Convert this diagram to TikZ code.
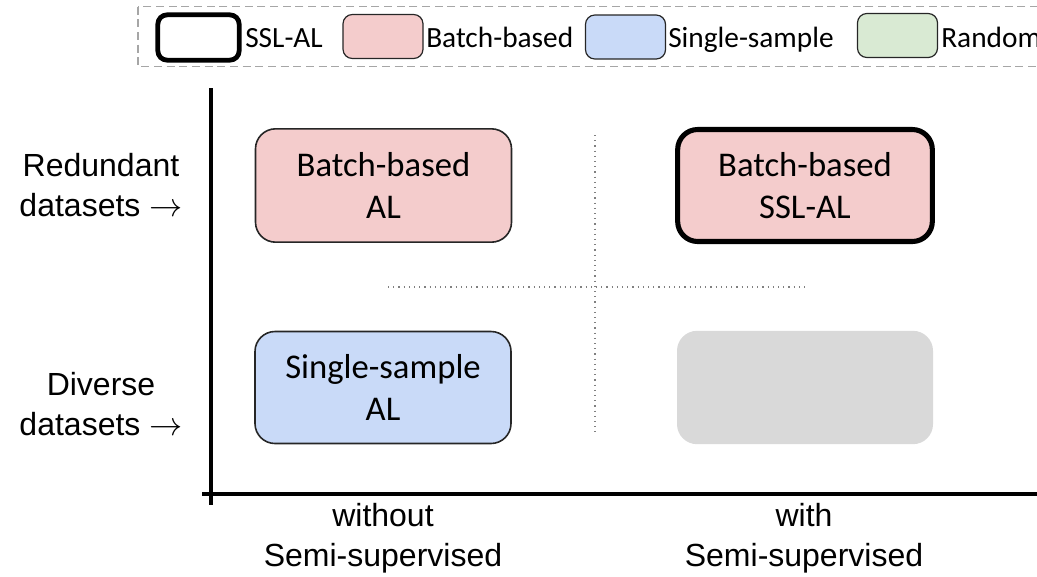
\documentclass[tikz,border=0pt]{standalone}
\usepackage{fontspec}
\setmainfont{Carlito}
\newfontfamily\axisfont{Liberation Sans}
\begin{document}
\begin{tikzpicture}[x=0.75pt,y=-0.75pt,
  quad/.style={rectangle,rounded corners=15pt,inner sep=0pt,align=center,
    font=\fontsize{26}{32}\selectfont},
  swatch/.style={rectangle,rounded corners=7pt,inner sep=0pt,
    minimum width=60pt,minimum height=33pt,draw=black!85,line width=0.9pt},
  legtext/.style={anchor=base west,inner sep=0pt,font=\fontsize{22}{26}\selectfont},
  axislabel/.style={align=center,inner sep=0pt,font=\axisfont\fontsize{24}{30}\selectfont},
  guide/.style={draw=black!50,line width=0.9pt,dash pattern=on 0.9pt off 3pt},
  axis/.style={draw=black,line width=2.3pt}]
\useasboundingbox (0,0) rectangle (1037,576);
\clip (0,0) rectangle (1037,576);

% legend frame
\draw[draw=black!35,line width=1.1pt,dash pattern=on 6pt off 3.5pt] (138,6.5) rectangle (1060,66.5);
\node[swatch,line width=3.6pt,draw=black,fill=white,minimum width=61pt,minimum height=34pt] (lssl) at (198.5,37.5) {};
\node[legtext] (tssl) at (245,47) {SSL-AL};
\node[swatch,fill={rgb,255:red,244;green,204;blue,204}] (lbb) at (383,36.5) {};
\node[legtext] (tbb) at (426,47) {Batch-based};
\node[swatch,fill={rgb,255:red,201;green,218;blue,248}] (lss) at (625.5,37) {};
\node[legtext] (tss) at (668,47) {Single-sample};
\node[swatch,fill={rgb,255:red,217;green,234;blue,211}] (lrd) at (897.5,35.5) {};
\node[legtext] (trd) at (941,47) {Random};

% quadrant guides
\coordinate (vtop) at (595,135);
\coordinate (vbot) at (595,432);
\coordinate (hl) at (388,287);
\coordinate (hr) at (805,287);
\draw[guide] (vtop) -- (vbot);
\draw[guide] (hl) -- (hr);

% axes
\coordinate (ytop) at (211,88);
\coordinate (ybot) at (211,505);
\coordinate (xl) at (202,494);
\coordinate (xr) at (1040,494);
\draw[axis] (ytop) -- (ybot);
\draw[axis] (xl) -- (xr);

% quadrant boxes
\node[quad,fill={rgb,255:red,244;green,204;blue,204},draw=black!85,line width=1.2pt,
  minimum width=192pt,minimum height=85pt] (bbal) at (383.5,185.5) {Batch-based\\AL};
\node[quad,fill={rgb,255:red,244;green,204;blue,204},draw=black,line width=3.8pt,
  minimum width=191pt,minimum height=84pt] (bbssl) at (805,185.5) {Batch-based\\SSL-AL};
\node[quad,fill={rgb,255:red,201;green,218;blue,248},draw=black!85,line width=1.2pt,
  minimum width=192pt,minimum height=84pt] (ssal) at (383,387.5) {Single-sample\\AL};
\node[quad,fill={rgb,255:red,217;green,217;blue,217},
  minimum width=192pt,minimum height=85pt] (empty) at (805,387.5) {};

% axis labels
\node[axislabel] (yred) at (101,185) {Redundant\\datasets $\rightarrow$};
\node[axislabel] (ydiv) at (101,404) {Diverse\\datasets $\rightarrow$};
\node[axislabel] (xwo) at (383,538) {without\\Semi-supervised};
\node[axislabel] (xw) at (804,538) {with\\Semi-supervised};
\end{tikzpicture}
\end{document}
